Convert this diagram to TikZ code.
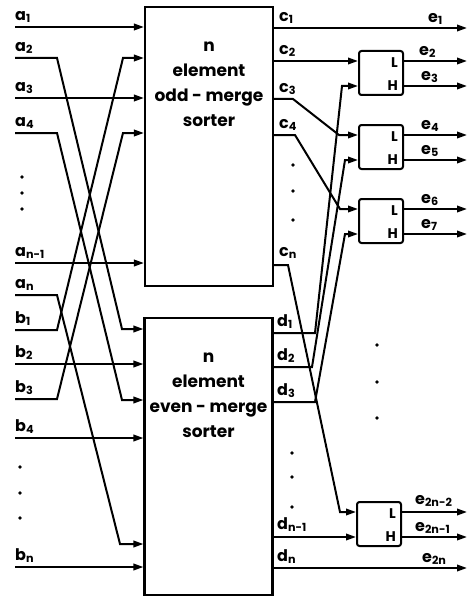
\documentclass[tikz,border=0pt]{standalone}
\usepackage{fontspec}
\setmainfont{Poppins}
\usetikzlibrary{arrows.meta,positioning,calc}

\newcommand{\ix}[2]{#1\textsubscript{#2}}

\begin{document}
\begin{tikzpicture}[
    x=1pt, y=-1pt,
    wire/.style={line width=2pt},
    line/.style={wire, -{Triangle[length=10pt,width=6.5pt]}},
    sorter/.style={
        draw,
        line width=2.1pt,
        minimum width=128pt,
        minimum height=279pt,
        inner sep=0pt
    },
    sortertext/.style={
        align=center,
        font=\fontsize{17}{25}\selectfont\bfseries,
        inner sep=0pt
    },
    cmp/.style={
        draw,
        line width=2pt,
        rounded corners=2.5pt,
        minimum width=44pt,
        minimum height=44pt,
        inner sep=0pt
    },
    port/.style={font=\fontsize{14}{14}\selectfont\bfseries, inner sep=0pt},
    lab/.style={font=\fontsize{16}{16}\selectfont\bfseries, inner sep=0pt},
    dot/.style={fill, circle, inner sep=0pt, minimum size=3.6pt}
]
\useasboundingbox (0,0) rectangle (475,599);

% ---- Sorters ----
\node[sorter] (odd) at (209,146.5) {};
\node[sorter, minimum height=277pt] (even) at (208.5,456.5) {};
\node[sortertext, below=36pt of odd.north] (oddtxt) {n\\element\\odd - merge\\sorter};
\node[sortertext, below=36pt of even.north] (eventxt) {n\\element\\even - merge\\sorter};

% ---- Comparators ----
\node[cmp] (cmp1) at (381,73) {};
\node[cmp] (cmp2) at (381,147) {};
\node[cmp] (cmp3) at (381,221) {};
\node[cmp] (cmp4) at (379,524) {};
\node[port, left=6pt of cmp1.east, yshift=10pt] (cmp1l) {L};
\node[port, left=6pt of cmp1.east, yshift=-13pt] (cmp1h) {H};
\node[port, left=6pt of cmp2.east, yshift=10pt] (cmp2l) {L};
\node[port, left=6pt of cmp2.east, yshift=-13pt] (cmp2h) {H};
\node[port, left=6pt of cmp3.east, yshift=10pt] (cmp3l) {L};
\node[port, left=6pt of cmp3.east, yshift=-13pt] (cmp3h) {H};
\node[port, left=6pt of cmp4.east, yshift=10pt] (cmp4l) {L};
\node[port, left=6pt of cmp4.east, yshift=-13pt] (cmp4h) {H};

% ---- Input ends ----
\coordinate (a1) at (15,27);
\coordinate (a2) at (15,58);
\coordinate (a3) at (15,98);
\coordinate (a4) at (15,133);
\coordinate (an1) at (15,263);
\coordinate (an) at (15,295);
\coordinate (b1) at (15,330);
\coordinate (b2) at (15,364);
\coordinate (b3) at (15,399);
\coordinate (b4) at (15,438);
\coordinate (bn) at (15,567);
\coordinate (a2k) at (122,329);
\coordinate (a4k) at (122,400);
\coordinate (ank) at (120,544);
\coordinate (b1k) at (123,58);
\coordinate (b3k) at (123,133);

% ---- Output ends ----
\coordinate (rhs) at (467,0);
\coordinate (c1) at (273,28);
\coordinate (c2) at (273,61);
\coordinate (c3) at (273,99);
\coordinate (c4) at (273,135);
\coordinate (cn) at (273,265);
\coordinate (d1) at (272,333);
\coordinate (d2) at (272,367);
\coordinate (d3) at (272,402);
\coordinate (dn1) at (272,537);
\coordinate (dn) at (272,568);
\coordinate (c3k) at (339,135);
\coordinate (c4k) at (340,209);
\coordinate (cnk) at (340,512);
\coordinate (d1k) at (342,86);
\coordinate (d2k) at (345,160);
\coordinate (d3k) at (345,234);
\coordinate (e2) at ([yshift=12pt]cmp1.east);
\coordinate (e3) at ([yshift=-13pt]cmp1.east);
\coordinate (e4) at ([yshift=12pt]cmp2.east);
\coordinate (e5) at ([yshift=-13pt]cmp2.east);
\coordinate (e6) at ([yshift=12pt]cmp3.east);
\coordinate (e7) at ([yshift=-13pt]cmp3.east);
\coordinate (e2n2) at ([yshift=12pt]cmp4.east);
\coordinate (e2n1) at ([yshift=-13pt]cmp4.east);

% ---- Inputs ----
\draw[line] (a1) -- (a1 -| odd.west);
\draw[line] (a2) -- ++(42,0) -- (a2k) -- (a2k -| even.west);
\draw[line] (a3) -- (a3 -| odd.west);
\draw[line] (a4) -- ++(42,0) -- (a4k) -- (a4k -| even.west);
\draw[line] (an1) -- (an1 -| odd.west);
\draw[line] (an) -- ++(42,0) -- (ank) -- (ank -| even.west);
\draw[line] (b1) -- ++(42,0) -- (b1k) -- (b1k -| odd.west);
\draw[line] (b2) -- (b2 -| even.west);
\draw[line] (b3) -- ++(42,0) -- (b3k) -- (b3k -| odd.west);
\draw[line] (b4) -- (b4 -| even.west);
\draw[line] (bn) -- (bn -| even.west);

% ---- Outputs ----
\draw[line] (c1) -- (c1 -| rhs);
\draw[line] (c2) -- (c2 -| cmp1.west);
\draw[line] (c3) -- ++(20,0) -- (c3k) -- (c3k -| cmp2.west);
\draw[line] (c4) -- ++(22,0) -- (c4k) -- (c4k -| cmp3.west);
\draw[line] (cn) -- ++(15,0) -- (cnk) -- (cnk -| cmp4.west);
\draw[line] (d1) -- ++(43,0) -- (d1k) -- (d1k -| cmp1.west);
\draw[line] (d2) -- ++(40,0) -- (d2k) -- (d2k -| cmp2.west);
\draw[line] (d3) -- ++(43,0) -- (d3k) -- (d3k -| cmp3.west);
\draw[line] (dn1) -- (dn1 -| cmp4.west);
\draw[line] (dn) -- (dn -| rhs);
\draw[line] (e2) -- (e2 -| rhs);
\draw[line] (e3) -- (e3 -| rhs);
\draw[line] (e4) -- (e4 -| rhs);
\draw[line] (e5) -- (e5 -| rhs);
\draw[line] (e6) -- (e6 -| rhs);
\draw[line] (e7) -- (e7 -| rhs);
\draw[line] (e2n2) -- (e2n2 -| rhs);
\draw[line] (e2n1) -- (e2n1 -| rhs);

% ---- Labels ----
\node[lab, above right=4pt and 0pt of a1] (la1) {\ix{a}{1}};
\node[lab, above right=4pt and 0pt of a2] (la2) {\ix{a}{2}};
\node[lab, above right=4pt and 0pt of a3] (la3) {\ix{a}{3}};
\node[lab, above right=4pt and 0pt of a4] (la4) {\ix{a}{4}};
\node[lab, above right=4pt and 0pt of an1] (lan1) {\ix{a}{n-1}};
\node[lab, above right=4pt and 0pt of an] (lan) {\ix{a}{n}};
\node[lab, above right=4pt and 0pt of b1] (lb1) {\ix{b}{1}};
\node[lab, above right=4pt and 0pt of b2] (lb2) {\ix{b}{2}};
\node[lab, above right=4pt and 0pt of b3] (lb3) {\ix{b}{3}};
\node[lab, above right=4pt and 0pt of b4] (lb4) {\ix{b}{4}};
\node[lab, above right=4pt and 0pt of bn] (lbn) {\ix{b}{n}};
\node[lab, above right=4pt and 6pt of c1] (lc1) {\ix{c}{1}};
\node[lab, above right=4pt and 6pt of c2] (lc2) {\ix{c}{2}};
\node[lab, above right=4pt and 6pt of c3] (lc3) {\ix{c}{3}};
\node[lab, above right=4pt and 6pt of c4] (lc4) {\ix{c}{4}};
\node[lab, above right=6pt and 6pt of cn] (lcn) {\ix{c}{n}};
\node[lab, above right=4pt and 5pt of d1] (ld1) {\ix{d}{1}};
\node[lab, above right=4pt and 5pt of d2] (ld2) {\ix{d}{2}};
\node[lab, above right=4pt and 5pt of d3] (ld3) {\ix{d}{3}};
\node[lab, above right=5pt and 5pt of dn1] (ldn1) {\ix{d}{n-1}};
\node[lab, above right=4pt and 5pt of dn] (ldn) {\ix{d}{n}};
\node[lab, anchor=south west] (le1) at (428,25) {\ix{e}{1}};
\node[lab, above right=3pt and 15pt of e2] (le2) {\ix{e}{2}};
\node[lab, above right=3pt and 17pt of e3] (le3) {\ix{e}{3}};
\node[lab, above right=3pt and 17pt of e4] (le4) {\ix{e}{4}};
\node[lab, above right=3pt and 17pt of e5] (le5) {\ix{e}{5}};
\node[lab, above right=3pt and 17pt of e6] (le6) {\ix{e}{6}};
\node[lab, above right=3pt and 17pt of e7] (le7) {\ix{e}{7}};
\node[lab, above right=5pt and 13pt of e2n2] (le2n2) {\ix{e}{2n-2}};
\node[lab, above right=3pt and 13pt of e2n1] (le2n1) {\ix{e}{2n-1}};
\node[lab, above right=3pt and 150pt of dn] (le2n) {\ix{e}{2n}};

% ---- Dots ----
\node[dot] (ldot1) at (22,177) {};
\node[dot] (ldot2) at (22,193) {};
\node[dot] (ldot3) at (22,209) {};
\node[dot] (ldot4) at (20,467) {};
\node[dot] (ldot5) at (20,493) {};
\node[dot] (ldot6) at (20,518) {};
\node[dot] (cdot1) at (293,165) {};
\node[dot] (cdot2) at (293,191) {};
\node[dot] (cdot3) at (293,220) {};
\node[dot] (ddot1) at (292,453) {};
\node[dot] (ddot2) at (292,477) {};
\node[dot] (ddot3) at (292,507) {};
\node[dot] (edot1) at (377,345) {};
\node[dot] (edot2) at (377,382) {};
\node[dot] (edot3) at (377,418) {};

\end{tikzpicture}
\end{document}
